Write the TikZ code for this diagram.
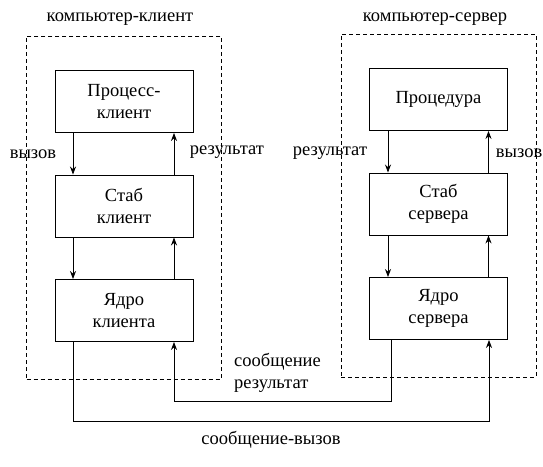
\documentclass[tikz,border=0pt]{standalone}
\usepackage{fontspec}
\setmainfont{Liberation Serif}
\usetikzlibrary{arrows.meta, positioning, fit}

\begin{document}
\begin{tikzpicture}[x=1pt, y=1pt, node distance=104.5pt, >={Stealth[length=8pt,width=6pt]},
    font=\fontsize{18.5}{22}\selectfont]
    % Styles
    \tikzstyle{block} = [rectangle, draw, line width=0.9pt, text width=130pt, text centered, minimum width=138pt, minimum height=62pt, inner sep=0pt]
    \tikzstyle{group} = [draw, line width=0.8pt, dash pattern=on 4pt off 3pt, inner xsep=28pt, inner ysep=35.5pt, yshift=-1.5pt]
    \tikzstyle{line} = [draw, ->, line width=0.8pt]

    \useasboundingbox (0,0) rectangle (543,466);

    % Nodes
    \node [block] (proc) at (124,364.5) {Процесс-\\клиент};
    \node [block, below of=proc] (stubc) {Стаб\\клиент};
    \node [block, below of=stubc] (kerc) {Ядро\\клиента};
    \node [block] (prcd) at (438.5,366.5) {Процедура};
    \node [block, below of=prcd] (stubs) {Стаб\\сервера};
    \node [block, below of=stubs] (kers) {Ядро\\сервера};

    % Paths
    \path [line] ([xshift=-51pt]proc.south) -- ([xshift=-51pt]stubc.north);
    \path [line] ([xshift=50pt]stubc.north) -- ([xshift=50pt]proc.south);
    \path [line] ([xshift=-51pt]stubc.south) -- ([xshift=-51pt]kerc.north);
    \path [line] ([xshift=50pt]kerc.north) -- ([xshift=50pt]stubc.south);
    \path [line] ([xshift=-50.5pt]prcd.south) -- ([xshift=-50.5pt]stubs.north);
    \path [line] ([xshift=50pt]stubs.north) -- ([xshift=50pt]prcd.south);
    \path [line] ([xshift=-50.5pt]stubs.south) -- ([xshift=-50.5pt]kers.north);
    \path [line] ([xshift=50pt]kers.north) -- ([xshift=50pt]stubs.south);
    \path [line] ([xshift=-51pt]kerc.south) -- ++(0,-79) -| ([xshift=50.5pt]kers.south);
    \path [line] ([xshift=-47.5pt]kers.south) -- ++(0,-61) -| ([xshift=50pt]kerc.south);

    % Labels
    \node (callc) at (33,312) {вызов};
    \node (resc) at (227,314) {результат};
    \node (ress) at (330,313) {результат};
    \node [anchor=east, inner sep=0pt] (calls) at (542.5,313) {вызов};
    \node [anchor=west, align=left, inner sep=0pt] (msgres) at (234,93.5) {сообщение\\результат};
    \node (msgcall) at (271,26) {сообщение-вызов};

    % Groups
    \node [group, fit=(proc) (kerc)] (client) {};
    \node [group, fit=(prcd) (kers)] (server) {};
    \node (clientlbl) at (120,447) {компьютер-клиент};
    \node (serverlbl) at (435,447) {компьютер-сервер};
\end{tikzpicture}
\end{document}
